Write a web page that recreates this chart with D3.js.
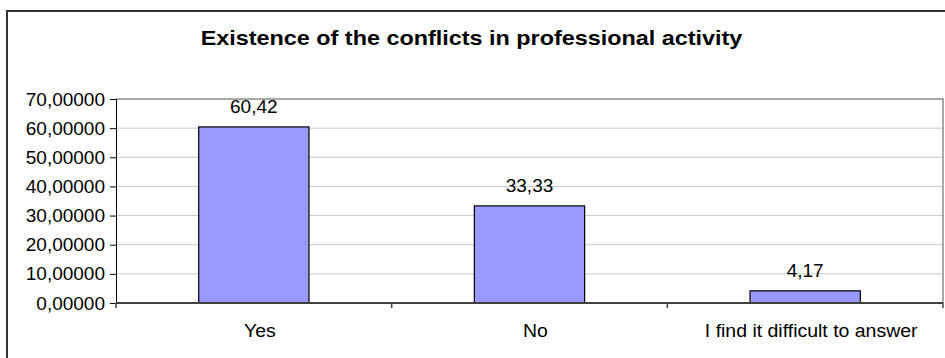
<!DOCTYPE html>
<html>
<head>
<meta charset="utf-8">
<script src="https://cdn.jsdelivr.net/npm/d3@7/dist/d3.min.js"></script>
<style>
  html, body { margin: 0; padding: 0; background: #fff; }
  svg { display: block; }
  text { font-family: "Liberation Sans", Arial, sans-serif; }
</style>
</head>
<body>
<svg id="chart" width="945" height="358"></svg>
<script>
const title = "Existence of the conflicts in professional activity";
const categories = ["Yes", "No", "I find it difficult to answer"];
const values = [60.42, 33.33, 4.17];
const valueLabels = ["60,42", "33,33", "4,17"];
const yTicks = [0, 10, 20, 30, 40, 50, 60, 70];

const svg = d3.select("#chart");
const W = 945, H = 358;
const m = { left: 116, right: 2, top: 99, bottom: 55 };
const x0 = m.left, x1 = W - m.right, y0 = H - m.bottom, y1 = m.top;

// outer chart border (extends past right/bottom edge)
svg.append("rect")
  .attr("x", 7).attr("y", 11)
  .attr("width", W + 10).attr("height", H + 10)
  .attr("fill", "none").attr("stroke", "#333").attr("stroke-width", 2);

const x = d3.scaleBand().domain(categories).range([x0, x1]).paddingInner(0.6).paddingOuter(0.3);
const xb = d3.scaleBand().domain(categories).range([x0, x1]);
const y = d3.scaleLinear().domain([0, 70]).range([y0, y1]);

// gridlines
svg.append("g").selectAll("line").data(yTicks.filter(d => d > 0 && d < 70)).join("line")
  .attr("x1", x0).attr("x2", x1)
  .attr("y1", d => y(d)).attr("y2", d => y(d))
  .attr("stroke", "#c8c8c8").attr("stroke-width", 1);

// plot area top and right border
svg.append("path")
  .attr("d", `M${x0},${y(70)}H${x1}V${y0}`)
  .attr("fill", "none").attr("stroke", "#8c8c8c").attr("stroke-width", 1.5);

// bars
svg.append("g").selectAll("rect").data(values).join("rect")
  .attr("x", (d, i) => x(categories[i]))
  .attr("y", d => y(d))
  .attr("width", x.bandwidth())
  .attr("height", d => y0 - y(d))
  .attr("fill", "#9999ff")
  .attr("stroke", "#000").attr("stroke-width", 1.2);

// value labels
svg.append("g").selectAll("text").data(values).join("text")
  .attr("x", (d, i) => x(categories[i]) + x.bandwidth() / 2)
  .attr("y", d => y(d) - 14)
  .attr("text-anchor", "middle")
  .attr("font-size", 19)
  .attr("fill", "#000")
  .text((d, i) => valueLabels[i]);

// y axis
const yAxis = d3.axisLeft(y).tickValues(yTicks).tickSize(6).tickPadding(5)
  .tickFormat(d => d3.format(".5f")(d).replace(".", ","));
const gy = svg.append("g").attr("transform", `translate(${x0},0)`).call(yAxis);
gy.select(".domain").attr("stroke", "#000").attr("stroke-width", 1);
gy.selectAll(".tick line").attr("stroke", "#000");
gy.selectAll(".tick text").attr("font-size", 19).attr("fill", "#000")
  .attr("font-family", "Liberation Sans, Arial, sans-serif");

// x axis
const gx = svg.append("g").attr("transform", `translate(0,${y0})`);
gx.append("line").attr("x1", x0).attr("x2", x1).attr("y1", 0).attr("y2", 0)
  .attr("stroke", "#404040").attr("stroke-width", 2);
gx.selectAll("line.tk").data(categories.map(c => xb(c)).concat([x1])).join("line")
  .attr("class", "tk")
  .attr("x1", d => d).attr("x2", d => d)
  .attr("y1", 0).attr("y2", 5)
  .attr("stroke", "#404040").attr("stroke-width", 1.5);
gx.selectAll("text").data(categories).join("text")
  .attr("transform", d => `translate(${xb(d) + xb.bandwidth() / 2 + 6},34) scale(1.025,1)`)
  .attr("text-anchor", "middle")
  .attr("font-size", 19)
  .attr("fill", "#000")
  .text(d => d);

// title
svg.append("text")
  .attr("transform", `translate(${(205 + 738) / 2},45) scale(1.2,1)`)
  .attr("text-anchor", "middle")
  .attr("font-size", 19.5).attr("font-weight", "bold")
  .attr("fill", "#000")
  .text(title);
</script>
</body>
</html>
